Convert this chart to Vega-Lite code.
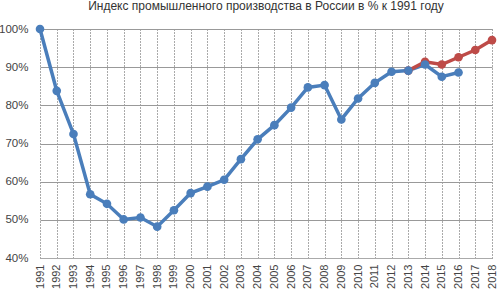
{
  "$schema": "https://vega.github.io/schema/vega-lite/v6.json",
  "width": 452,
  "height": 229,
  "autosize": {"type": "none"},
  "padding": {"left": 40, "top": 29, "right": 8, "bottom": 42},
  "background": "white",
  "title": {
    "text": "Индекс промышленного производства в России в % к 1991 году",
    "font": "Liberation Sans",
    "fontSize": 12,
    "fontWeight": "normal",
    "color": "#333333",
    "anchor": "middle",
    "offset": 9
  },
  "config": {
    "view": {"stroke": null},
    "font": "Liberation Sans"
  },
  "data": {
    "values": [
      {"year": "1991", "value": 1.000, "series": "Факт"},
      {"year": "1992", "value": 0.838, "series": "Факт"},
      {"year": "1993", "value": 0.725, "series": "Факт"},
      {"year": "1994", "value": 0.567, "series": "Факт"},
      {"year": "1995", "value": 0.542, "series": "Факт"},
      {"year": "1996", "value": 0.501, "series": "Факт"},
      {"year": "1997", "value": 0.506, "series": "Факт"},
      {"year": "1998", "value": 0.482, "series": "Факт"},
      {"year": "1999", "value": 0.525, "series": "Факт"},
      {"year": "2000", "value": 0.570, "series": "Факт"},
      {"year": "2001", "value": 0.587, "series": "Факт"},
      {"year": "2002", "value": 0.605, "series": "Факт"},
      {"year": "2003", "value": 0.659, "series": "Факт"},
      {"year": "2004", "value": 0.711, "series": "Факт"},
      {"year": "2005", "value": 0.748, "series": "Факт"},
      {"year": "2006", "value": 0.794, "series": "Факт"},
      {"year": "2007", "value": 0.847, "series": "Факт"},
      {"year": "2008", "value": 0.853, "series": "Факт"},
      {"year": "2009", "value": 0.763, "series": "Факт"},
      {"year": "2010", "value": 0.818, "series": "Факт"},
      {"year": "2011", "value": 0.859, "series": "Факт"},
      {"year": "2012", "value": 0.888, "series": "Факт"},
      {"year": "2013", "value": 0.891, "series": "Факт"},
      {"year": "2014", "value": 0.907, "series": "Факт"},
      {"year": "2015", "value": 0.875, "series": "Факт"},
      {"year": "2016", "value": 0.886, "series": "Факт"},
      {"year": "2013", "value": 0.891, "series": "Прогноз"},
      {"year": "2014", "value": 0.914, "series": "Прогноз"},
      {"year": "2015", "value": 0.907, "series": "Прогноз"},
      {"year": "2016", "value": 0.926, "series": "Прогноз"},
      {"year": "2017", "value": 0.945, "series": "Прогноз"},
      {"year": "2018", "value": 0.971, "series": "Прогноз"}
    ]
  },
  "encoding": {
    "x": {
      "field": "year",
      "type": "ordinal",
      "scale": {
        "type": "point",
        "padding": 0,
        "domain": ["1991","1992","1993","1994","1995","1996","1997","1998","1999","2000","2001","2002","2003","2004","2005","2006","2007","2008","2009","2010","2011","2012","2013","2014","2015","2016","2017","2018"]
      },
      "axis": {
        "title": null,
        "labelAngle": -90,
        "labelFontSize": 11,
        "labelColor": "#444444",
        "labelPadding": 6,
        "ticks": false,
        "domainColor": "#aaaaaa",
        "grid": true,
        "gridColor": "#555555",
        "gridDash": [1, 2],
        "gridWidth": 1
      }
    },
    "y": {
      "field": "value",
      "type": "quantitative",
      "scale": {"domain": [0.4, 1.0], "nice": false},
      "axis": {
        "title": null,
        "format": ".0%",
        "values": [0.4, 0.5, 0.6, 0.7, 0.8, 0.9, 1.0],
        "labelFontSize": 11.5,
        "labelColor": "#444444",
        "labelPadding": 12,
        "ticks": false,
        "domain": false,
        "grid": true,
        "gridColor": "#999999",
        "gridWidth": 1
      }
    },
    "color": {
      "field": "series",
      "type": "nominal",
      "scale": {"domain": ["Факт", "Прогноз"], "range": ["#4a7ebb", "#be4b48"]},
      "legend": null
    }
  },
  "layer": [
    {
      "mark": {"type": "line", "strokeWidth": 3.5}
    },
    {
      "mark": {"type": "point", "size": 75, "filled": true, "opacity": 1},
      "encoding": {
        "order": {"field": "series", "sort": "ascending"}
      }
    }
  ]
}
